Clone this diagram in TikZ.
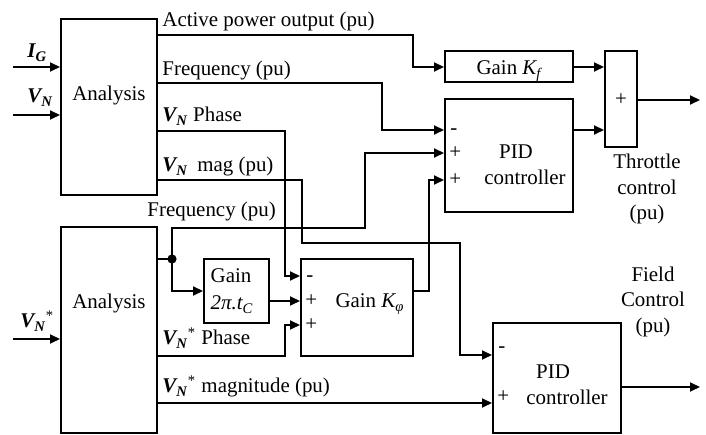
\documentclass[tikz,border=0pt]{standalone}
\usepackage{fontspec}
\setmainfont{Liberation Serif}
\usetikzlibrary{arrows.meta,fit}
\newcommand{\VNsym}{\textbf{\textit{V\textsubscript{N}}}}
\begin{document}
\begin{tikzpicture}[x=0.5bp,y=-0.5bp,
  box/.style={draw,line width=1bp,inner sep=0pt},
  wire/.style={line width=1bp},
  arr/.style={wire,-{Triangle[length=5bp,width=4.5bp]}},
  lbl/.style={inner sep=0pt,font=\fontsize{10.5}{13}\selectfont},
  lw/.style={lbl,anchor=base west},
  lc/.style={lbl,anchor=base}]
\useasboundingbox (0,0) rectangle (706,435);
\clip (0,0) rectangle (706,435);
% boxes
\node[box,fit={(61,19.5) (157,195)}] (an1) {};
\node[box,fit={(61,227) (157,433)}] (an2) {};
\node[box,fit={(445,51) (573,82)}] (gkf) {};
\node[box,fit={(445,99) (573,212)}] (pid1) {};
\node[box,fit={(605,51) (637,147)}] (sum) {};
\node[box,fit={(204,259) (269,323)}] (g2pi) {};
\node[box,fit={(301,259) (413,356)}] (gkphi) {};
\node[box,fit={(493,323) (621,433)}] (pid2) {};
% box texts
\node[lc] (an1t) at (109,101) {Analysis};
\node[lc] (an2t) at (109,309) {Analysis};
\node[lc] (gkft) at (509,75) {Gain \textit{K\textsubscript{f}}};
\node[lbl] (sumt) at (621,100) {+};
\node[lw] (p1m) at (450,135) {-};
\node[lbl,anchor=west] (p1a) at (449,153) {+};
\node[lbl,anchor=west] (p1b) at (449,180) {+};
\node[lc] (p1t1) at (516,159) {PID};
\node[lc] (p1t2) at (525,185) {controller};
\node[lw] (gpm) at (306,282) {-};
\node[lbl,anchor=west] (gpa) at (305,301) {+};
\node[lbl,anchor=west] (gpb) at (305,325) {+};
\node[lc] (gpt) at (370,308) {Gain \textit{K\textsubscript{φ}}};
\node[lc] (g2t1) at (231,283) {Gain};
\node[lc] (g2t2) at (232,310) {\textit{2π.t\textsubscript{C}}};
\node[lw] (p2m) at (498,353) {-};
\node[lbl,anchor=west] (p2a) at (497,397) {+};
\node[lc] (p2t1) at (553,379) {PID};
\node[lc] (p2t2) at (567,405) {controller};
% outside labels
\node[lw] (l1) at (162,27) {Active power output (pu)};
\node[lw] (l2) at (162,76) {Frequency (pu)};
\node[lw] (l3) at (162,122) {\VNsym{} Phase};
\node[lw] (l4) at (162,172) {\VNsym\hspace{0.45em}mag (pu)};
\node[lw] (l5) at (147,217) {Frequency (pu)};
\node[lw] (l6) at (162,345) {\VNsym\textsuperscript{*} Phase};
\node[lw] (l7) at (162,393) {\VNsym\textsuperscript{*} magnitude (pu)};
\node[lw] (lig) at (27,58) {\textbf{\textit{I\textsubscript{G}}}};
\node[lw] (lvn) at (27,103) {\VNsym};
\node[lw] (lvs) at (20,328) {\VNsym\textsuperscript{*}};
\node[lc] (th1) at (647,169) {Throttle};
\node[lc] (th2) at (647,195) {control};
\node[lc] (th3) at (647,220) {(pu)};
\node[lc] (fc1) at (653,282) {Field};
\node[lc] (fc2) at (653,307) {Control};
\node[lc] (fc3) at (653,333) {(pu)};
% free ends
\coordinate (igin) at (13,67);
\coordinate (vnin) at (13,115);
\coordinate (vsin) at (13,339);
\coordinate (thr) at (700,100);
\coordinate (fld) at (700,387);
\coordinate (dot) at (172,259);
% connectors
\draw[arr] (igin) -- (igin -| an1.west);
\draw[arr] (vnin) -- (vnin -| an1.west);
\draw[arr] (vsin) -- (vsin -| an2.west);
\draw[arr] (an1.east |- 0,35) -- (413,35) |- (gkf.west |- 0,67);
\draw[arr] (an1.east |- 0,83) -- (382,83) |- (pid1.west |- 0,130);
\draw[arr] (an1.east |- 0,131) -- (285,131) |- (gkphi.west |- 0,276);
\draw[arr] (an1.east |- 0,180) -- (302,180) -- (302,243) -- (460,243) |- (pid2.west |- 0,355);
\draw[wire] (an2.east |- dot) -- (dot);
\draw[arr] (dot) -- (172,228) -| (365,153) -- (pid1.west |- 0,153);
\draw[arr] (dot) |- (g2pi.west |- 0,291);
\fill (dot) circle[radius=2.3bp];
\draw[arr] (g2pi.east |- 0,301) -- (gkphi.west |- 0,301);
\draw[arr] (an2.east |- 0,356) -- (285,356) |- (gkphi.west |- 0,325);
\draw[arr] (an2.east |- 0,403) -- (pid2.west |- 0,403);
\draw[arr] (gkphi.east |- 0,291) -- (429,291) |- (pid1.west |- 0,180);
\draw[arr] (gkf.east |- 0,67) -- (sum.west |- 0,67);
\draw[arr] (pid1.east |- 0,130) -- (sum.west |- 0,130);
\draw[arr] (sum.east |- thr) -- (thr);
\draw[arr] (pid2.east |- fld) -- (fld);
\end{tikzpicture}
\end{document}
